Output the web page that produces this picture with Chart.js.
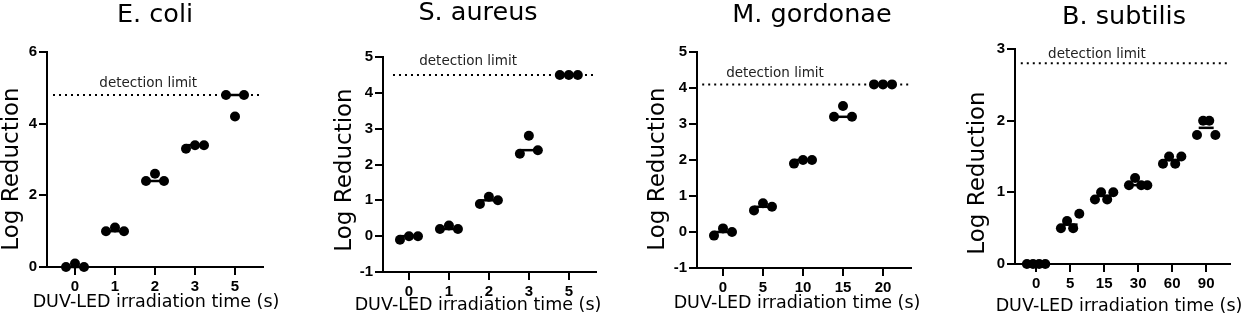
<!DOCTYPE html>
<html>
<head>
<meta charset="utf-8">
<script src="https://cdn.jsdelivr.net/npm/chart.js@4.4.1/dist/chart.umd.min.js"></script>
<style>
  body { margin: 0; background: #fff; }
  #wrap { position: relative; width: 1247px; height: 318px; }
  canvas { position: absolute; top: 0; }
</style>
</head>
<body>
<div id="wrap">
  <canvas id="c0" width="310" height="318" style="left:0px"></canvas>
  <canvas id="c1" width="310" height="318" style="left:310px"></canvas>
  <canvas id="c2" width="310" height="318" style="left:620px"></canvas>
  <canvas id="c3" width="317" height="318" style="left:930px"></canvas>
</div>
<script>
// species shown in each panel
const titles = ['E. coli', 'S. aureus', 'M. gordonae', 'B. subtilis'];

// irradiation times (s), one list per panel
const ecoliTimes = ['0', '1', '2', '3', '5'];
const aureusTimes = ['0', '1', '2', '3', '5'];
const gordonaeTimes = ['0', '5', '10', '15', '20'];
const subtilisTimes = ['0', '5', '15', '30', '60', '90'];

// log reduction replicates per time point
const ecoliReduction = [[0, 0.1, 0], [1.0, 1.1, 1.0], [2.4, 2.6, 2.4], [3.3, 3.4, 3.4], [4.8, 4.2, 4.8]];
const aureusReduction = [[-0.1, 0, 0], [0.2, 0.3, 0.2], [0.9, 1.1, 1.0], [2.3, 2.8, 2.4], [4.5, 4.5, 4.5]];
const gordonaeReduction = [[-0.1, 0.1, 0], [0.6, 0.8, 0.7], [1.9, 2.0, 2.0], [3.2, 3.5, 3.2], [4.1, 4.1, 4.1]];
const subtilisReduction = [[0, 0, 0, 0], [0.5, 0.6, 0.5, 0.7], [0.9, 1.0, 0.9, 1.0], [1.1, 1.2, 1.1, 1.1], [1.4, 1.5, 1.4, 1.5], [1.8, 2.0, 2.0, 1.8]];

const detectionLimits = [4.8, 4.5, 4.1, 2.8];
const yMins = [0, -1, -1, 0];
const yMaxs = [6, 5, 5, 3];
const ySteps = [2, 1, 1, 1];

const times = [ecoliTimes, aureusTimes, gordonaeTimes, subtilisTimes];
const reductions = [ecoliReduction, aureusReduction, gordonaeReduction, subtilisReduction];

// pixel layout of each panel inside its canvas
const layouts = [
  {w: 310, axisX: 47, right: 263, top: 52, bottom: 267, titleX: 155, titleY: 15, yTitleX: 12, yTitleY: 169, xTitleX: 156, xTitleY: 302, xMin: -0.7, xMax: 4.7, limStart: -0.55, spread: 0.225, half: 0.23, labelX: 1.83, gap: 12},
  {w: 310, axisX: 73, right: 286, top: 57, bottom: 272, titleX: 168, titleY: 13, yTitleX: 35, yTitleY: 170, xTitleX: 168, xTitleY: 305, xMin: -0.65, xMax: 4.68, limStart: -0.4, spread: 0.225, half: 0.23, labelX: 1.48, gap: 13},
  {w: 310, axisX: 77, right: 291, top: 52, bottom: 268, titleX: 192, titleY: 15, yTitleX: 38, yTitleY: 169, xTitleX: 177, xTitleY: 303, xMin: -0.65, xMax: 4.7, limStart: -0.52, spread: 0.225, half: 0.23, labelX: 1.3, gap: 11},
  {w: 317, axisX: 85, right: 300, top: 49, bottom: 264, titleX: 194, titleY: 17, yTitleX: 48, yTitleY: 173, xTitleX: 189, xTitleY: 306, xMin: -0.62, xMax: 5.7, limStart: -0.45, spread: 0.18, half: 0.22, labelX: 1.79, gap: 9}
];

const textFont = '"DejaVu Sans", sans-serif';
const tickFont = {family: '"Liberation Sans", Arial, sans-serif', size: 15, weight: 'bold'};

function median(arr) {
  const s = [...arr].sort((a, b) => a - b);
  const m = Math.floor(s.length / 2);
  return s.length % 2 ? s[m] : (s[m - 1] + s[m]) / 2;
}

const panelText = {
  id: 'panelText',
  afterDatasetsDraw(chart, args, opts) {
    const {ctx, scales: {x, y}} = chart;
    ctx.save();
    ctx.fillStyle = '#000';
    ctx.textAlign = 'center';
    ctx.textBaseline = 'middle';
    ctx.font = '25.5px ' + textFont;
    ctx.fillText(opts.title, opts.titleX, opts.titleY);
    ctx.font = '17.5px ' + textFont;
    ctx.fillText('DUV-LED irradiation time (s)', opts.xTitleX, opts.xTitleY);
    ctx.font = '13.5px ' + textFont;
    ctx.fillStyle = '#222';
    ctx.fillText('detection limit', x.getPixelForValue(opts.labelX), y.getPixelForValue(opts.limit) - opts.gap);
    ctx.fillStyle = '#000';
    ctx.translate(opts.yTitleX, opts.yTitleY);
    ctx.rotate(-Math.PI / 2);
    ctx.font = '23px ' + textFont;
    ctx.fillText('Log Reduction', 0, 0);
    ctx.restore();
  }
};

titles.forEach((title, k) => {
  const L = layouts[k];
  const labels = times[k];
  const groups = reductions[k];
  const limit = detectionLimits[k];

  const points = [];
  groups.forEach((grp, i) => {
    grp.forEach((v, j) => points.push({x: i + (j - (grp.length - 1) / 2) * L.spread, y: v}));
  });

  const datasets = [{
    type: 'line',
    data: [{x: L.limStart, y: limit}, {x: L.xMax, y: limit}],
    borderColor: '#000',
    borderWidth: 2,
    borderDash: [2, 4],
    pointRadius: 0
  }];
  groups.forEach((grp, i) => {
    const m = median(grp);
    datasets.push({
      type: 'line',
      data: [{x: i - L.half, y: m}, {x: i + L.half, y: m}],
      borderColor: '#000',
      borderWidth: 2.5,
      pointRadius: 0,
      clip: false
    });
  });
  datasets.push({
    type: 'scatter',
    data: points,
    backgroundColor: '#000',
    borderWidth: 0,
    pointRadius: 5,
    clip: false
  });

  new Chart(document.getElementById('c' + k), {
    type: 'scatter',
    data: {datasets},
    options: {
      responsive: false,
      animation: false,
      devicePixelRatio: 1,
      layout: {padding: {top: L.top, right: L.w - L.right, bottom: 0, left: 0}},
      plugins: {
        legend: {display: false},
        tooltip: {enabled: false},
        panelText: {title, titleX: L.titleX, titleY: L.titleY, xTitleX: L.xTitleX, xTitleY: L.xTitleY,
                    labelX: L.labelX, limit, gap: L.gap, yTitleX: L.yTitleX, yTitleY: L.yTitleY}
      },
      scales: {
        x: {
          type: 'linear',
          min: L.xMin,
          max: L.xMax,
          afterBuildTicks: s => { s.ticks = labels.map((_, i) => ({value: i})); },
          afterFit: s => { s.height = 318 - L.bottom; },
          ticks: {callback: v => labels[v], font: tickFont, color: '#000', padding: 3, autoSkip: false, maxRotation: 0},
          grid: {drawOnChartArea: false, drawTicks: true, tickLength: 8, color: '#000', lineWidth: 2},
          border: {display: true, color: '#000', width: 2}
        },
        y: {
          min: yMins[k],
          max: yMaxs[k],
          afterFit: s => { s.width = L.axisX; },
          ticks: {stepSize: ySteps[k], font: tickFont, color: '#000', padding: 2},
          grid: {drawOnChartArea: false, drawTicks: true, tickLength: 8, color: '#000', lineWidth: 2},
          border: {display: true, color: '#000', width: 2}
        }
      }
    },
    plugins: [panelText]
  });
});
</script>
</body>
</html>
